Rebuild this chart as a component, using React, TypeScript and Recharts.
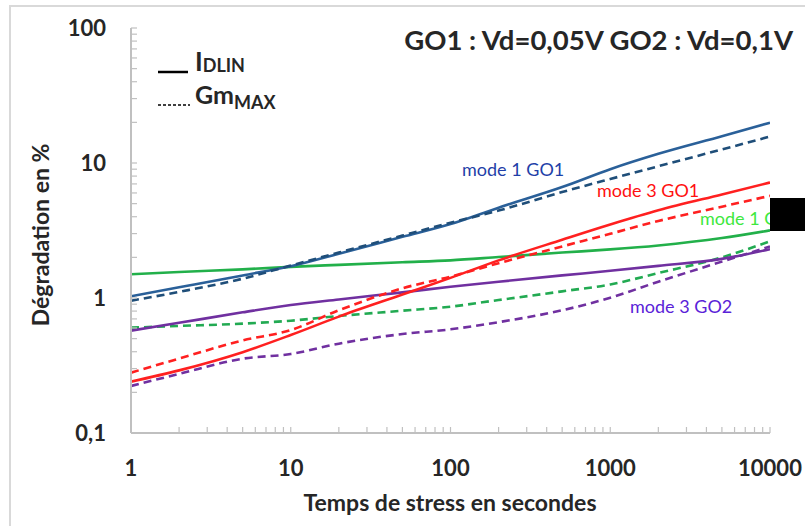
import { LineChart, Line, XAxis, YAxis } from 'recharts';

// temps de stress (s)
const times = [1, 2, 5, 10, 20, 50, 100, 200, 500, 1000, 2000, 5000, 10000];

// dégradation en %
const mode1Go1Idlin = [1.03, 1.2, 1.47, 1.72, 2.13, 2.84, 3.53, 4.67, 6.63, 9.0, 11.7, 15.8, 19.9];
const mode1Go1Gm = [0.955, 1.11, 1.39, 1.74, 2.17, 2.9, 3.61, 4.44, 6.09, 7.61, 9.46, 12.6, 15.7];
const mode3Go1Idlin = [0.24, 0.291, 0.397, 0.532, 0.728, 1.06, 1.41, 1.9, 2.7, 3.5, 4.46, 5.85, 7.17];
const mode3Go1Gm = [0.28, 0.356, 0.485, 0.579, 0.811, 1.18, 1.44, 1.81, 2.41, 2.99, 3.72, 4.75, 5.71];
const mode1Go2Idlin = [1.5, 1.56, 1.63, 1.7, 1.76, 1.84, 1.9, 2.01, 2.17, 2.29, 2.45, 2.78, 3.17];
const mode1Go2Gm = [0.603, 0.621, 0.646, 0.679, 0.736, 0.805, 0.863, 0.966, 1.12, 1.26, 1.53, 2.0, 2.63];
const mode3Go2Idlin = [0.573, 0.655, 0.783, 0.888, 0.976, 1.1, 1.21, 1.32, 1.47, 1.59, 1.73, 1.95, 2.3];
const mode3Go2Gm = [0.223, 0.274, 0.355, 0.385, 0.459, 0.541, 0.586, 0.662, 0.811, 1.005, 1.32, 1.86, 2.41];

const xMajor = [1, 10, 100, 1000, 10000];
const yMajor = [0.1, 1, 10, 100];
const yLabels = ['0,1', '1', '10', '100'];

const minors = (from: number, to: number) => {
  const out: number[] = [];
  for (let d = from; d < to; d *= 10) {
    for (let k = 1; k < 10; k++) out.push(+(d * k).toPrecision(3));
  }
  out.push(to);
  return out;
};
const xTicks = minors(1, 10000);
const yTicks = minors(0.1, 100);

const data = times.map((t, i) => ({
  t,
  m1g1s: mode1Go1Idlin[i],
  m1g1d: mode1Go1Gm[i],
  m3g1s: mode3Go1Idlin[i],
  m3g1d: mode3Go1Gm[i],
  m1g2s: mode1Go2Idlin[i],
  m1g2d: mode1Go2Gm[i],
  m3g2s: mode3Go2Idlin[i],
  m3g2d: mode3Go2Gm[i],
}));

const FONT = "Lato, 'Open Sans', sans-serif";
const TXT = '#262626';
const AXIS = '#c0c0c0';

const XTick = (props: any) => {
  const { x, y, payload } = props;
  const i = xMajor.indexOf(payload.value);
  return (
    <g>
      <line x1={x} y1={y} x2={x} y2={y - 6} stroke={AXIS} strokeWidth={1.2} />
      {i >= 0 && (
        <text x={x} y={y + 43} textAnchor="middle" fontFamily={FONT} fontWeight={700} fontSize={22} fill={TXT}>
          {payload.value}
        </text>
      )}
    </g>
  );
};

const YTick = (props: any) => {
  const { x, y, payload } = props;
  const i = yMajor.findIndex((v) => Math.abs(v - payload.value) < 1e-9);
  return (
    <g>
      <line x1={x} y1={y} x2={x + 6} y2={y} stroke={AXIS} strokeWidth={1.2} />
      {i >= 0 && (
        <text x={x - 25} y={y + 8} textAnchor="end" fontFamily={FONT} fontWeight={700} fontSize={22} fill={TXT}>
          {yLabels[i]}
        </text>
      )}
    </g>
  );
};

const series = [
  { key: 'm1g2s', color: '#22b04a', dash: undefined },
  { key: 'm1g2d', color: '#22aa52', dash: '8 5' },
  { key: 'm3g2s', color: '#7030a0', dash: undefined },
  { key: 'm3g2d', color: '#7030a0', dash: '8 5' },
  { key: 'm3g1s', color: '#ff2020', dash: undefined },
  { key: 'm3g1d', color: '#ff2020', dash: '8 5' },
  { key: 'm1g1s', color: '#2a6099', dash: undefined },
  { key: 'm1g1d', color: '#1f4e79', dash: '8 5' },
];

export default function App() {
  return (
    <div style={{ position: 'absolute', left: 0, top: 0, width: 805, height: 526, overflow: 'hidden', background: '#fff' }}>
      <div style={{ position: 'absolute', left: 9, top: 5, width: 900, height: 600, border: '2px solid #d9d9d9' }} />
      <div style={{ position: 'absolute', left: 0, top: 0 }}>
        <LineChart width={805} height={526} data={data} margin={{ top: 28, right: 35, bottom: 0, left: 0 }}>
          <XAxis
            dataKey="t"
            type="number"
            scale="log"
            domain={[1, 10000]}
            ticks={xTicks}
            interval={0}
            allowDataOverflow
            tickSize={0}
            tickMargin={0}
            tickLine={false}
            tick={<XTick />}
            height={93}
            axisLine={{ stroke: AXIS, strokeWidth: 2 }}
          />
          <YAxis
            type="number"
            scale="log"
            domain={[0.1, 100]}
            ticks={yTicks}
            interval={0}
            allowDataOverflow
            tickSize={0}
            tickMargin={0}
            tickLine={false}
            tick={<YTick />}
            width={131}
            axisLine={{ stroke: AXIS, strokeWidth: 2 }}
          />
          {series.map((s) => (
            <Line
              key={s.key}
              dataKey={s.key}
              type="monotone"
              stroke={s.color}
              strokeWidth={2.6}
              strokeDasharray={s.dash}
              dot={false}
              activeDot={false}
              isAnimationActive={false}
            />
          ))}
        </LineChart>
      </div>
      <svg width={805} height={526} style={{ position: 'absolute', left: 0, top: 0, pointerEvents: 'none' }}>
        <text x={793} y={50} textAnchor="end" fontFamily={FONT} fontWeight={700} fontSize={27.5} fill={TXT}>
          GO1 : Vd=0,05V GO2 : Vd=0,1V
        </text>
        <line x1={158} y1={72} x2={188} y2={72} stroke="#000" strokeWidth={2.5} />
        <text x={195} y={71} fontFamily={FONT} fontWeight={700} fontSize={26} fill={TXT}>
          I<tspan fontSize={18} dy={1}>DLIN</tspan>
        </text>
        <line x1={158} y1={105} x2={190} y2={105} stroke="#000" strokeWidth={1.3} strokeDasharray="3 2" />
        <text x={195} y={104} fontFamily={FONT} fontWeight={700} fontSize={25} fill={TXT}>
          Gm<tspan fontSize={18} dy={5}>MAX</tspan>
        </text>
        <text x={462} y={176} fontFamily={FONT} fontSize={18} fill="#1f3fa8">mode 1 GO1</text>
        <text x={597} y={197} fontFamily={FONT} fontSize={18} fill="#ff1010">mode 3 GO1</text>
        <text x={700} y={225} fontFamily={FONT} fontSize={18} fill="#3ee83e">mode 1 GO2</text>
        <text x={630} y={313} fontFamily={FONT} fontSize={18} fill="#5a22d8">mode 3 GO2</text>
        <rect x={770} y={198} width={35} height={33} fill="#000" />
        <text x={450} y={511} textAnchor="middle" fontFamily={FONT} fontWeight={700} fontSize={23} fill={TXT}>
          Temps de stress en secondes
        </text>
        <text
          x={49}
          y={235}
          textAnchor="middle"
          transform="rotate(-90, 49, 235)"
          fontFamily={FONT}
          fontWeight={700}
          fontSize={23}
          fill={TXT}
        >
          Dégradation en %
        </text>
      </svg>
    </div>
  );
}
